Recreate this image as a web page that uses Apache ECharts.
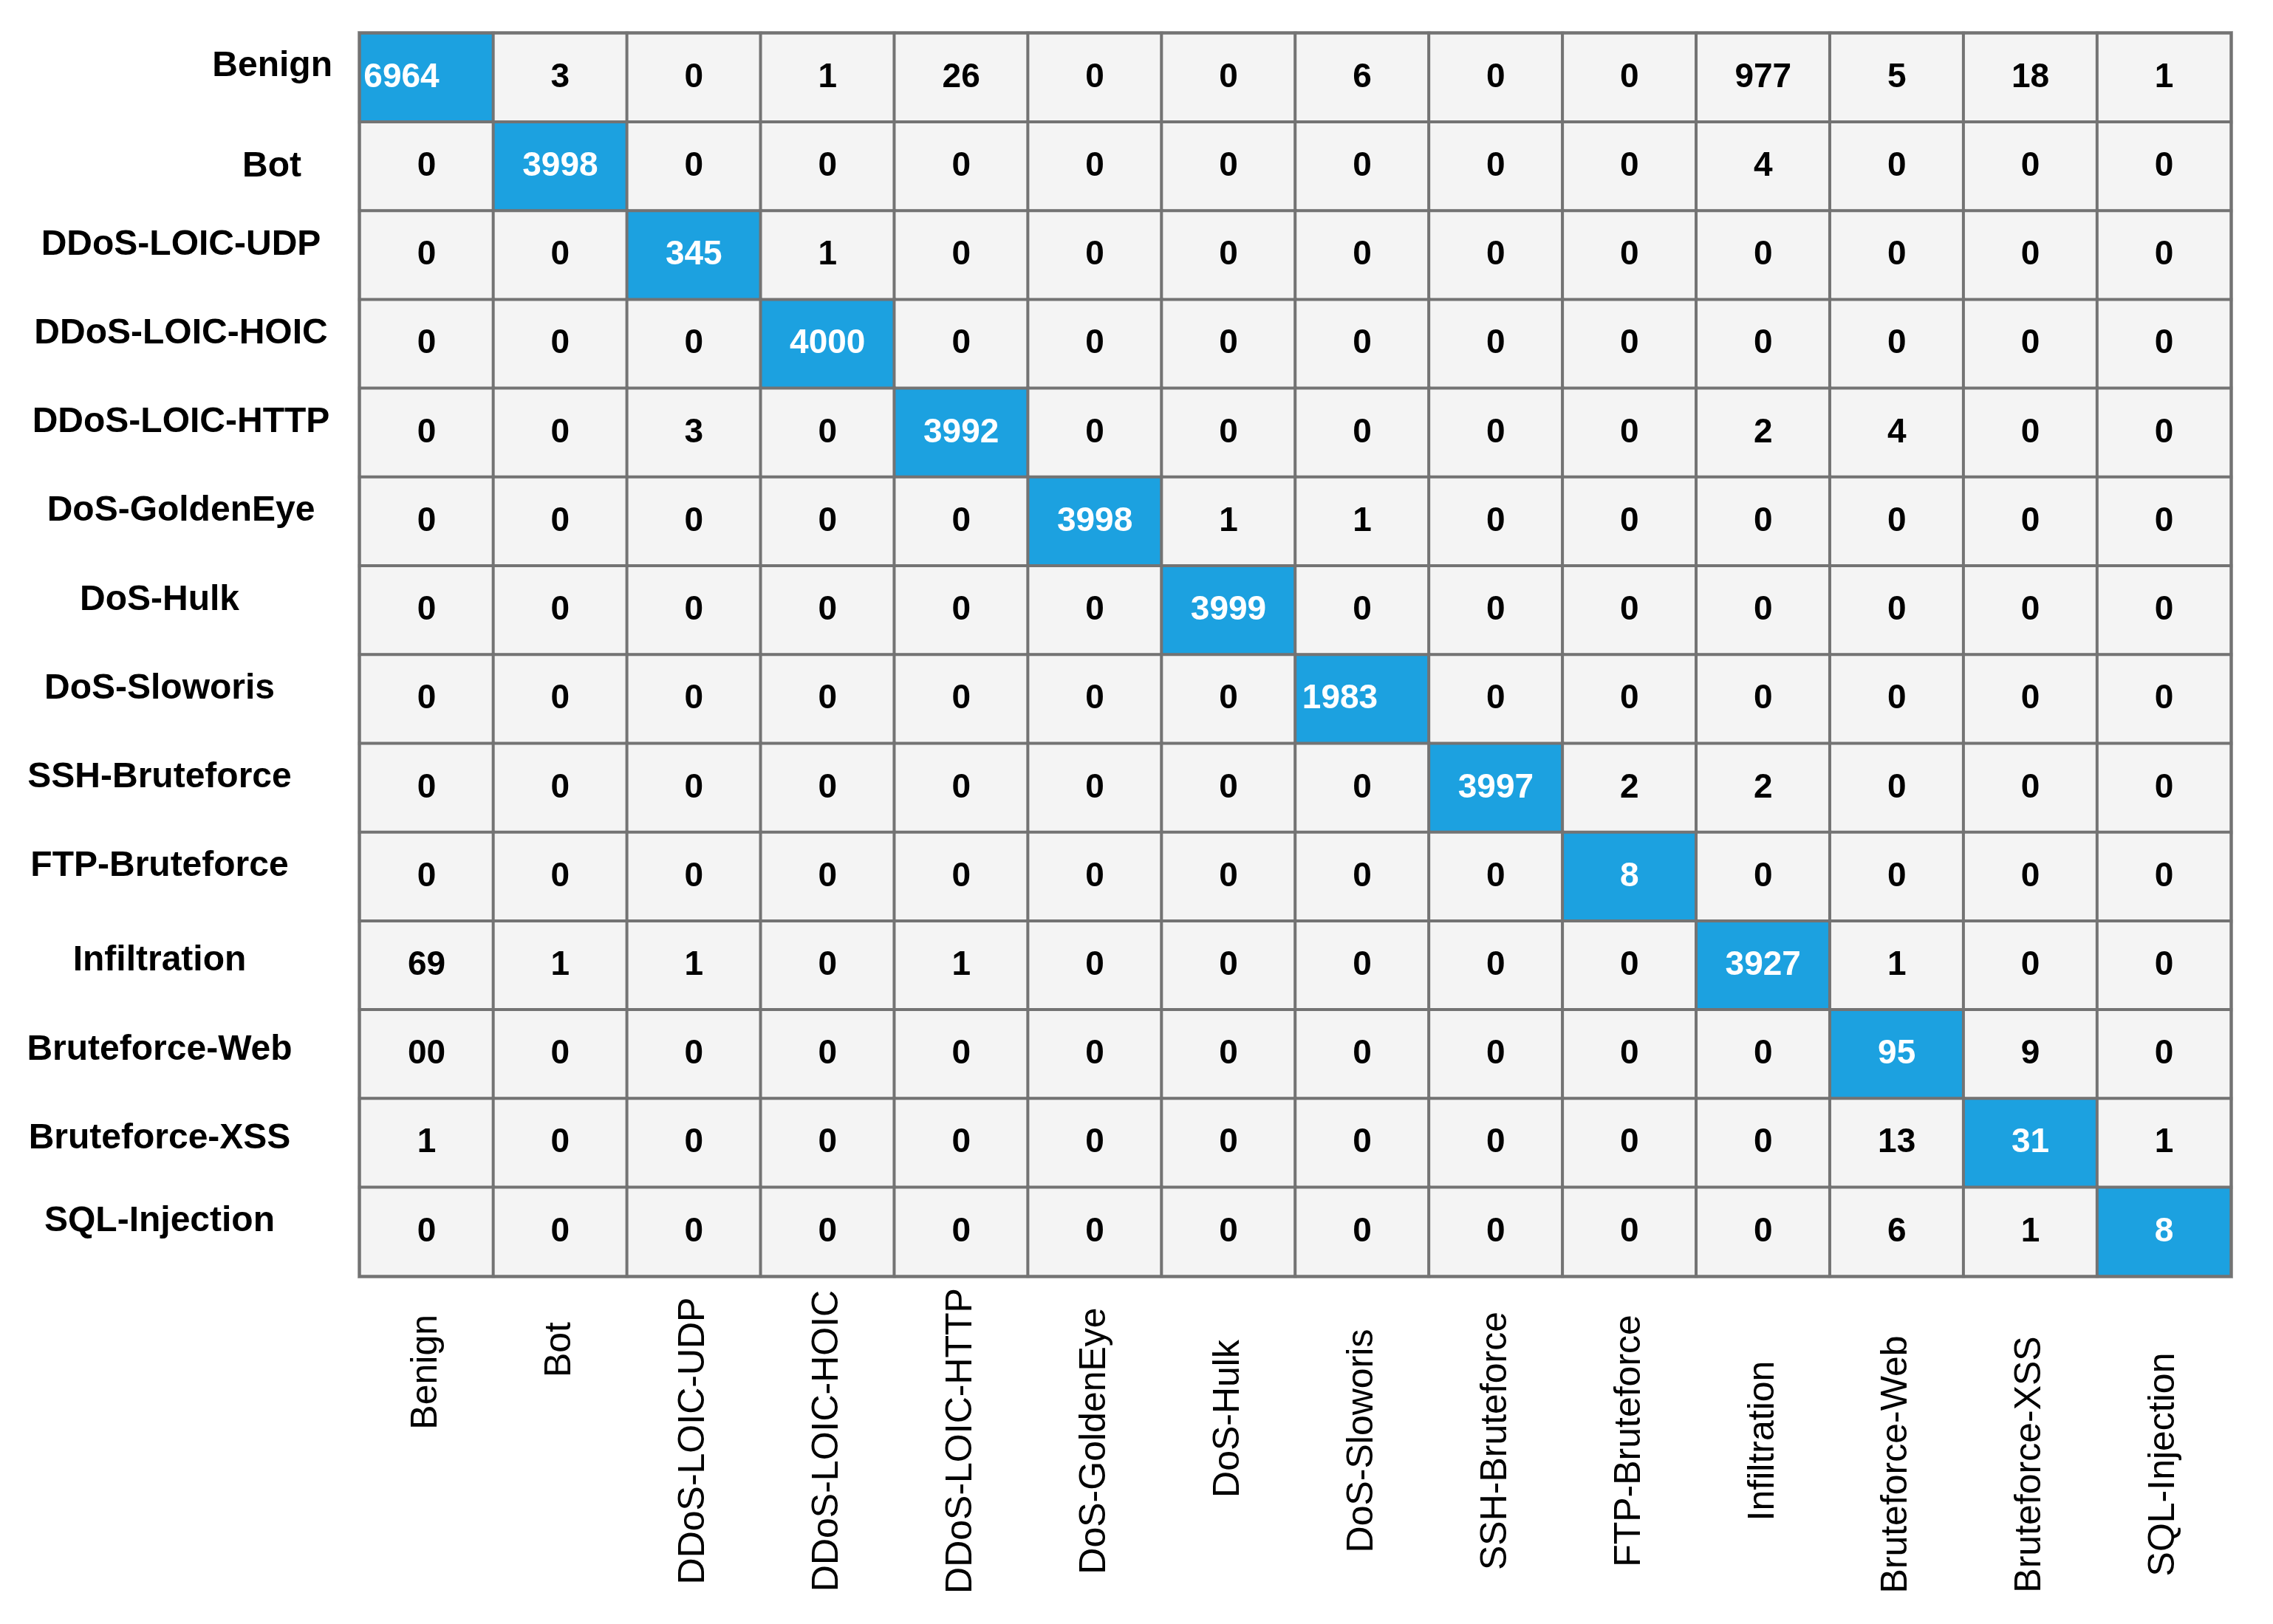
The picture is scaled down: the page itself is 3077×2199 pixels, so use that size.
<!DOCTYPE html>
<html>
<head>
<meta charset="utf-8">
<script src="https://cdn.jsdelivr.net/npm/echarts@6/dist/echarts.min.js"></script>
<style>
html,body{margin:0;padding:0;background:#fff;}
#chart{width:3077px;height:2199px;}
</style>
</head>
<body>
<div id="chart"></div>
<script>
// Categories (rows = actual, columns = predicted)
const categories = ['Benign','Bot','DDoS-LOIC-UDP','DDoS-LOIC-HOIC','DDoS-LOIC-HTTP','DoS-GoldenEye','DoS-Hulk','DoS-Sloworis','SSH-Bruteforce','FTP-Bruteforce','Infiltration','Bruteforce-Web','Bruteforce-XSS','SQL-Injection'];

// Cell values, one array per row (as printed in the figure)
const rowBenign        = [6964, 3, 0, 1, 26, 0, 0, 6, 0, 0, 977, 5, 18, 1];
const rowBot           = [0, 3998, 0, 0, 0, 0, 0, 0, 0, 0, 4, 0, 0, 0];
const rowLoicUdp       = [0, 0, 345, 1, 0, 0, 0, 0, 0, 0, 0, 0, 0, 0];
const rowLoicHoic      = [0, 0, 0, 4000, 0, 0, 0, 0, 0, 0, 0, 0, 0, 0];
const rowLoicHttp      = [0, 0, 3, 0, 3992, 0, 0, 0, 0, 0, 2, 4, 0, 0];
const rowGoldenEye     = [0, 0, 0, 0, 0, 3998, 1, 1, 0, 0, 0, 0, 0, 0];
const rowHulk          = [0, 0, 0, 0, 0, 0, 3999, 0, 0, 0, 0, 0, 0, 0];
const rowSloworis      = [0, 0, 0, 0, 0, 0, 0, 1983, 0, 0, 0, 0, 0, 0];
const rowSsh           = [0, 0, 0, 0, 0, 0, 0, 0, 3997, 2, 2, 0, 0, 0];
const rowFtp           = [0, 0, 0, 0, 0, 0, 0, 0, 0, 8, 0, 0, 0, 0];
const rowInfiltration  = [69, 1, 1, 0, 1, 0, 0, 0, 0, 0, 3927, 1, 0, 0];
const rowBruteWeb      = ['00', 0, 0, 0, 0, 0, 0, 0, 0, 0, 0, 95, 9, 0];
const rowBruteXss      = [1, 0, 0, 0, 0, 0, 0, 0, 0, 0, 0, 13, 31, 1];
const rowSql           = [0, 0, 0, 0, 0, 0, 0, 0, 0, 0, 0, 6, 1, 8];

const rows = [rowBenign,rowBot,rowLoicUdp,rowLoicHoic,rowLoicHttp,rowGoldenEye,rowHulk,rowSloworis,rowSsh,rowFtp,rowInfiltration,rowBruteWeb,rowBruteXss,rowSql];

const BLUE = '#1ca1e0', GRAY = '#f4f4f4';
const FONT = "'Liberation Sans', Arial, sans-serif";

const data = [];
rows.forEach((row, r) => {
  row.forEach((v, c) => {
    const diag = r === c;
    const item = {
      value: [c, r, Number(v)],
      text: String(v),
      itemStyle: { color: diag ? BLUE : GRAY },
      label: { color: diag ? '#ffffff' : '#000000' }
    };
    if (r === 0 && c === 0) item.label.offset = [-34, 0];
    if (r === 7 && c === 7) item.label.offset = [-30, 0];
    data.push(item);
  });
});

const XFS = 50, YFS = 48;
const chart = echarts.init(document.getElementById('chart'));
chart.setOption({
  backgroundColor: '#ffffff',
  animation: false,
  grid: { left: 487, right: 57, top: 45, bottom: 471, show: true, borderColor: '#a9a9a9', borderWidth: 6, backgroundColor: 'transparent', z: 0 },
  xAxis: {
    type: 'category',
    data: categories,
    axisLine: { show: false },
    axisTick: { show: false },
    splitLine: { show: false },
    axisLabel: {
      rotate: 90,
      margin: 16,
      interval: 0,
      fontFamily: FONT,
      fontSize: XFS,
      color: '#000',
      formatter: function (v) {
        if (v === 'Benign') return '{r|' + v + '}';
        if (v === 'Bot') return '{b|' + v + '}';
        if (v === 'DoS-Hulk') return '{h|' + v + '}';
        if (v === 'Bruteforce-Web' || v === 'Bruteforce-XSS' || v === 'SQL-Injection') return '{d|' + v + '}';
        return '{c|' + v + '}';
      },
      rich: {
        c: { width: 414, align: 'center', fontSize: XFS, fontFamily: FONT },
        d: { width: 414, align: 'center', padding: [0, 32, 0, 0], fontSize: XFS, fontFamily: FONT },
        h: { width: 354, align: 'center', fontSize: XFS, fontFamily: FONT },
        r: { width: 414, align: 'right', padding: [0, 36, 0, 0], fontSize: XFS, fontFamily: FONT },
        b: { width: 414, align: 'right', padding: [0, 46, 0, 0], fontSize: XFS, fontFamily: FONT }
      }
    }
  },
  yAxis: {
    type: 'category',
    data: categories,
    inverse: true,
    axisLine: { show: false },
    axisTick: { show: false },
    splitLine: { show: false },
    axisLabel: {
      margin: 37,
      interval: 0,
      fontFamily: FONT,
      fontSize: YFS,
      fontWeight: 'bold',
      color: '#000',
      formatter: function (v) {
        if (v === 'Benign') return '{r|' + v + '}';
        if (v === 'Bot') return '{b|' + v + '}';
        if (v.indexOf('DDoS') === 0 || v === 'DoS-GoldenEye') return '{e|' + v + '}';
        if (v === 'Infiltration' || v === 'Bruteforce-Web' || v === 'Bruteforce-XSS') return '{d|' + v + '}';
        return '{c|' + v + '}';
      },
      rich: {
        c: { width: 468, align: 'center', padding: [0, 0, 28, 0], fontSize: YFS, fontWeight: 'bold', fontFamily: FONT },
        e: { width: 410, align: 'center', padding: [0, 0, 28, 0], fontSize: YFS, fontWeight: 'bold', fontFamily: FONT },
        d: { width: 468, align: 'center', padding: [0, 0, 12, 0], fontSize: YFS, fontWeight: 'bold', fontFamily: FONT },
        r: { width: 450, align: 'right', padding: [0, 0, 30, 0], fontSize: YFS, fontWeight: 'bold', fontFamily: FONT },
        b: { width: 408, align: 'right', padding: [0, 42, 0, 0], fontSize: YFS, fontWeight: 'bold', fontFamily: FONT }
      }
    }
  },
  series: [{
    type: 'heatmap',
    data: data,
    itemStyle: { borderColor: '#737373', borderWidth: 4 },
    label: {
      show: true,
      fontFamily: FONT,
      fontSize: 46,
      fontWeight: 'bold',
      formatter: function (p) { return p.data.text; }
    },
    emphasis: { disabled: true }
  }]
});
</script>
</body>
</html>
